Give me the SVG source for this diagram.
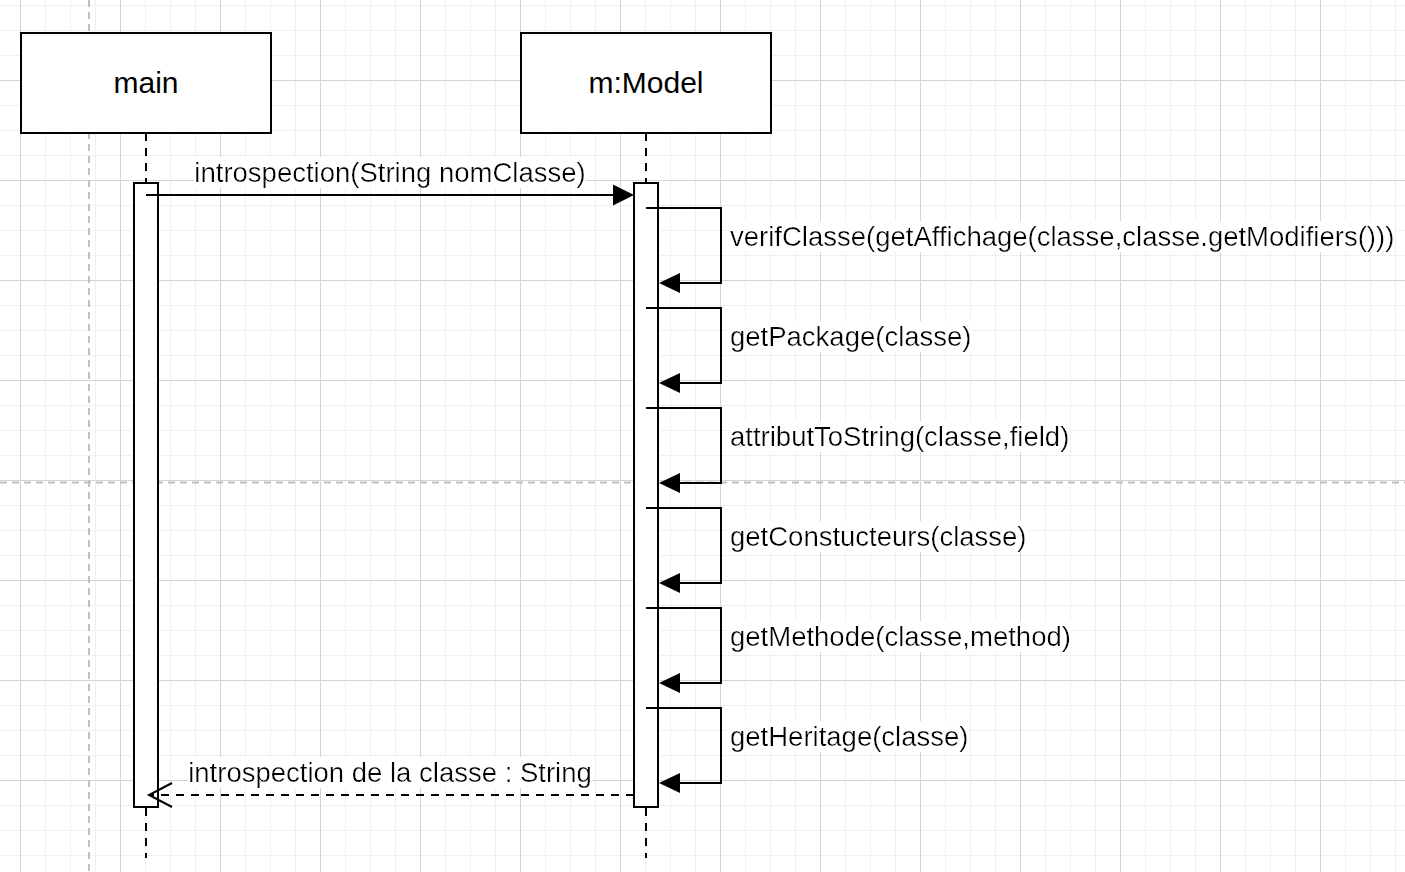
<svg xmlns="http://www.w3.org/2000/svg" width="1405" height="872" viewBox="0 0 1405 872">
  <defs>
    <pattern id="grid" width="100" height="100" patternUnits="userSpaceOnUse" x="20" y="80">
      <rect x="25" y="0" width="1" height="100" fill="#f0f0f0"/>
      <rect x="50" y="0" width="1" height="100" fill="#f0f0f0"/>
      <rect x="75" y="0" width="1" height="100" fill="#f0f0f0"/>
      <rect x="0" y="25" width="100" height="1" fill="#f0f0f0"/>
      <rect x="0" y="50" width="100" height="1" fill="#f0f0f0"/>
      <rect x="0" y="75" width="100" height="1" fill="#f0f0f0"/>
      <rect x="0" y="0" width="1" height="100" fill="#d4d4d4"/>
      <rect x="0" y="0" width="100" height="1" fill="#d4d4d4"/>
    </pattern>
    <filter id="labelbg" x="0" y="0" width="1" height="1">
      <feFlood flood-color="#ffffff"/>
      <feComposite in="SourceGraphic"/>
    </filter>
    <style>
      .box { fill: #ffffff; stroke: #000000; stroke-width: 2; }
      .life { fill: none; stroke: #000000; stroke-width: 2; stroke-dasharray: 8 7; }
      .act { fill: #ffffff; stroke: #000000; stroke-width: 2; }
      .msg { fill: none; stroke: #000000; stroke-width: 2; }
      .ret { fill: none; stroke: #000000; stroke-width: 2; stroke-dasharray: 8 7; }
      .head { fill: #000000; stroke: none; }
      .open { fill: none; stroke: #000000; stroke-width: 2; }
      .pb { fill: none; stroke: #c0c0c0; stroke-width: 2; stroke-dasharray: 7 5; }
      .title { font-family: "Liberation Sans", Arial, sans-serif; font-size: 30px; fill: #000000; text-anchor: middle; }
      .lbl { font-family: "Liberation Sans", Arial, sans-serif; font-size: 27.5px; fill: #000000; }
      .mid { text-anchor: middle; }
    </style>
  </defs>

  <rect x="0" y="0" width="1405" height="872" fill="#ffffff"/>
  <rect x="0" y="0" width="1405" height="872" fill="url(#grid)"/>

  <g id="page-breaks">
    <line class="pb" x1="89" y1="0" x2="89" y2="872"/>
    <line class="pb" x1="0" y1="482.5" x2="1405" y2="482.5"/>
  </g>

  <g id="node-main">
    <line class="life" x1="146" y1="133" x2="146" y2="858"/>
    <rect class="box" x="21" y="33" width="250" height="100"/>
    <text class="title" x="146" y="93">main</text>
    <rect class="act" x="134" y="183" width="24" height="624"/>
  </g>

  <g id="node-model">
    <line class="life" x1="646" y1="133" x2="646" y2="858"/>
    <rect class="box" x="521" y="33" width="250" height="100"/>
    <text class="title" x="646" y="93">m:Model</text>
    <rect class="act" x="634" y="183" width="24" height="624"/>
  </g>

  <g id="connectors">
    <g id="call-introspection">
      <line class="msg" x1="146" y1="195" x2="614" y2="195"/>
      <polygon class="head" points="634,195 613,184.5 613,205.5"/>
      <text class="lbl mid" x="390" y="182" filter="url(#labelbg)">introspection(String nomClasse)</text>
    </g>
    <g id="self-verifClasse">
      <path class="msg" d="M646,208 H721 V283 H678"/>
      <polygon class="head" points="659,283 680,273 680,293"/>
      <text class="lbl" x="730" y="246" filter="url(#labelbg)">verifClasse(getAffichage(classe,classe.getModifiers()))</text>
    </g>
    <g id="self-getPackage">
      <path class="msg" d="M646,308 H721 V383 H678"/>
      <polygon class="head" points="659,383 680,373 680,393"/>
      <text class="lbl" x="730" y="346" filter="url(#labelbg)">getPackage(classe)</text>
    </g>
    <g id="self-attributToString">
      <path class="msg" d="M646,408 H721 V483 H678"/>
      <polygon class="head" points="659,483 680,473 680,493"/>
      <text class="lbl" x="730" y="446" filter="url(#labelbg)">attributToString(classe,field)</text>
    </g>
    <g id="self-getConstucteurs">
      <path class="msg" d="M646,508 H721 V583 H678"/>
      <polygon class="head" points="659,583 680,573 680,593"/>
      <text class="lbl" x="730" y="546" filter="url(#labelbg)">getConstucteurs(classe)</text>
    </g>
    <g id="self-getMethode">
      <path class="msg" d="M646,608 H721 V683 H678"/>
      <polygon class="head" points="659,683 680,673 680,693"/>
      <text class="lbl" x="730" y="646" filter="url(#labelbg)">getMethode(classe,method)</text>
    </g>
    <g id="self-getHeritage">
      <path class="msg" d="M646,708 H721 V783 H678"/>
      <polygon class="head" points="659,783 680,773 680,793"/>
      <text class="lbl" x="730" y="746" filter="url(#labelbg)">getHeritage(classe)</text>
    </g>
    <g id="return-introspection">
      <line class="ret" x1="634" y1="795" x2="150" y2="795"/>
      <polyline class="open" points="172,783 149,795 172,807"/>
      <text class="lbl mid" x="390" y="782" filter="url(#labelbg)">introspection de la classe : String</text>
    </g>
  </g>
</svg>
